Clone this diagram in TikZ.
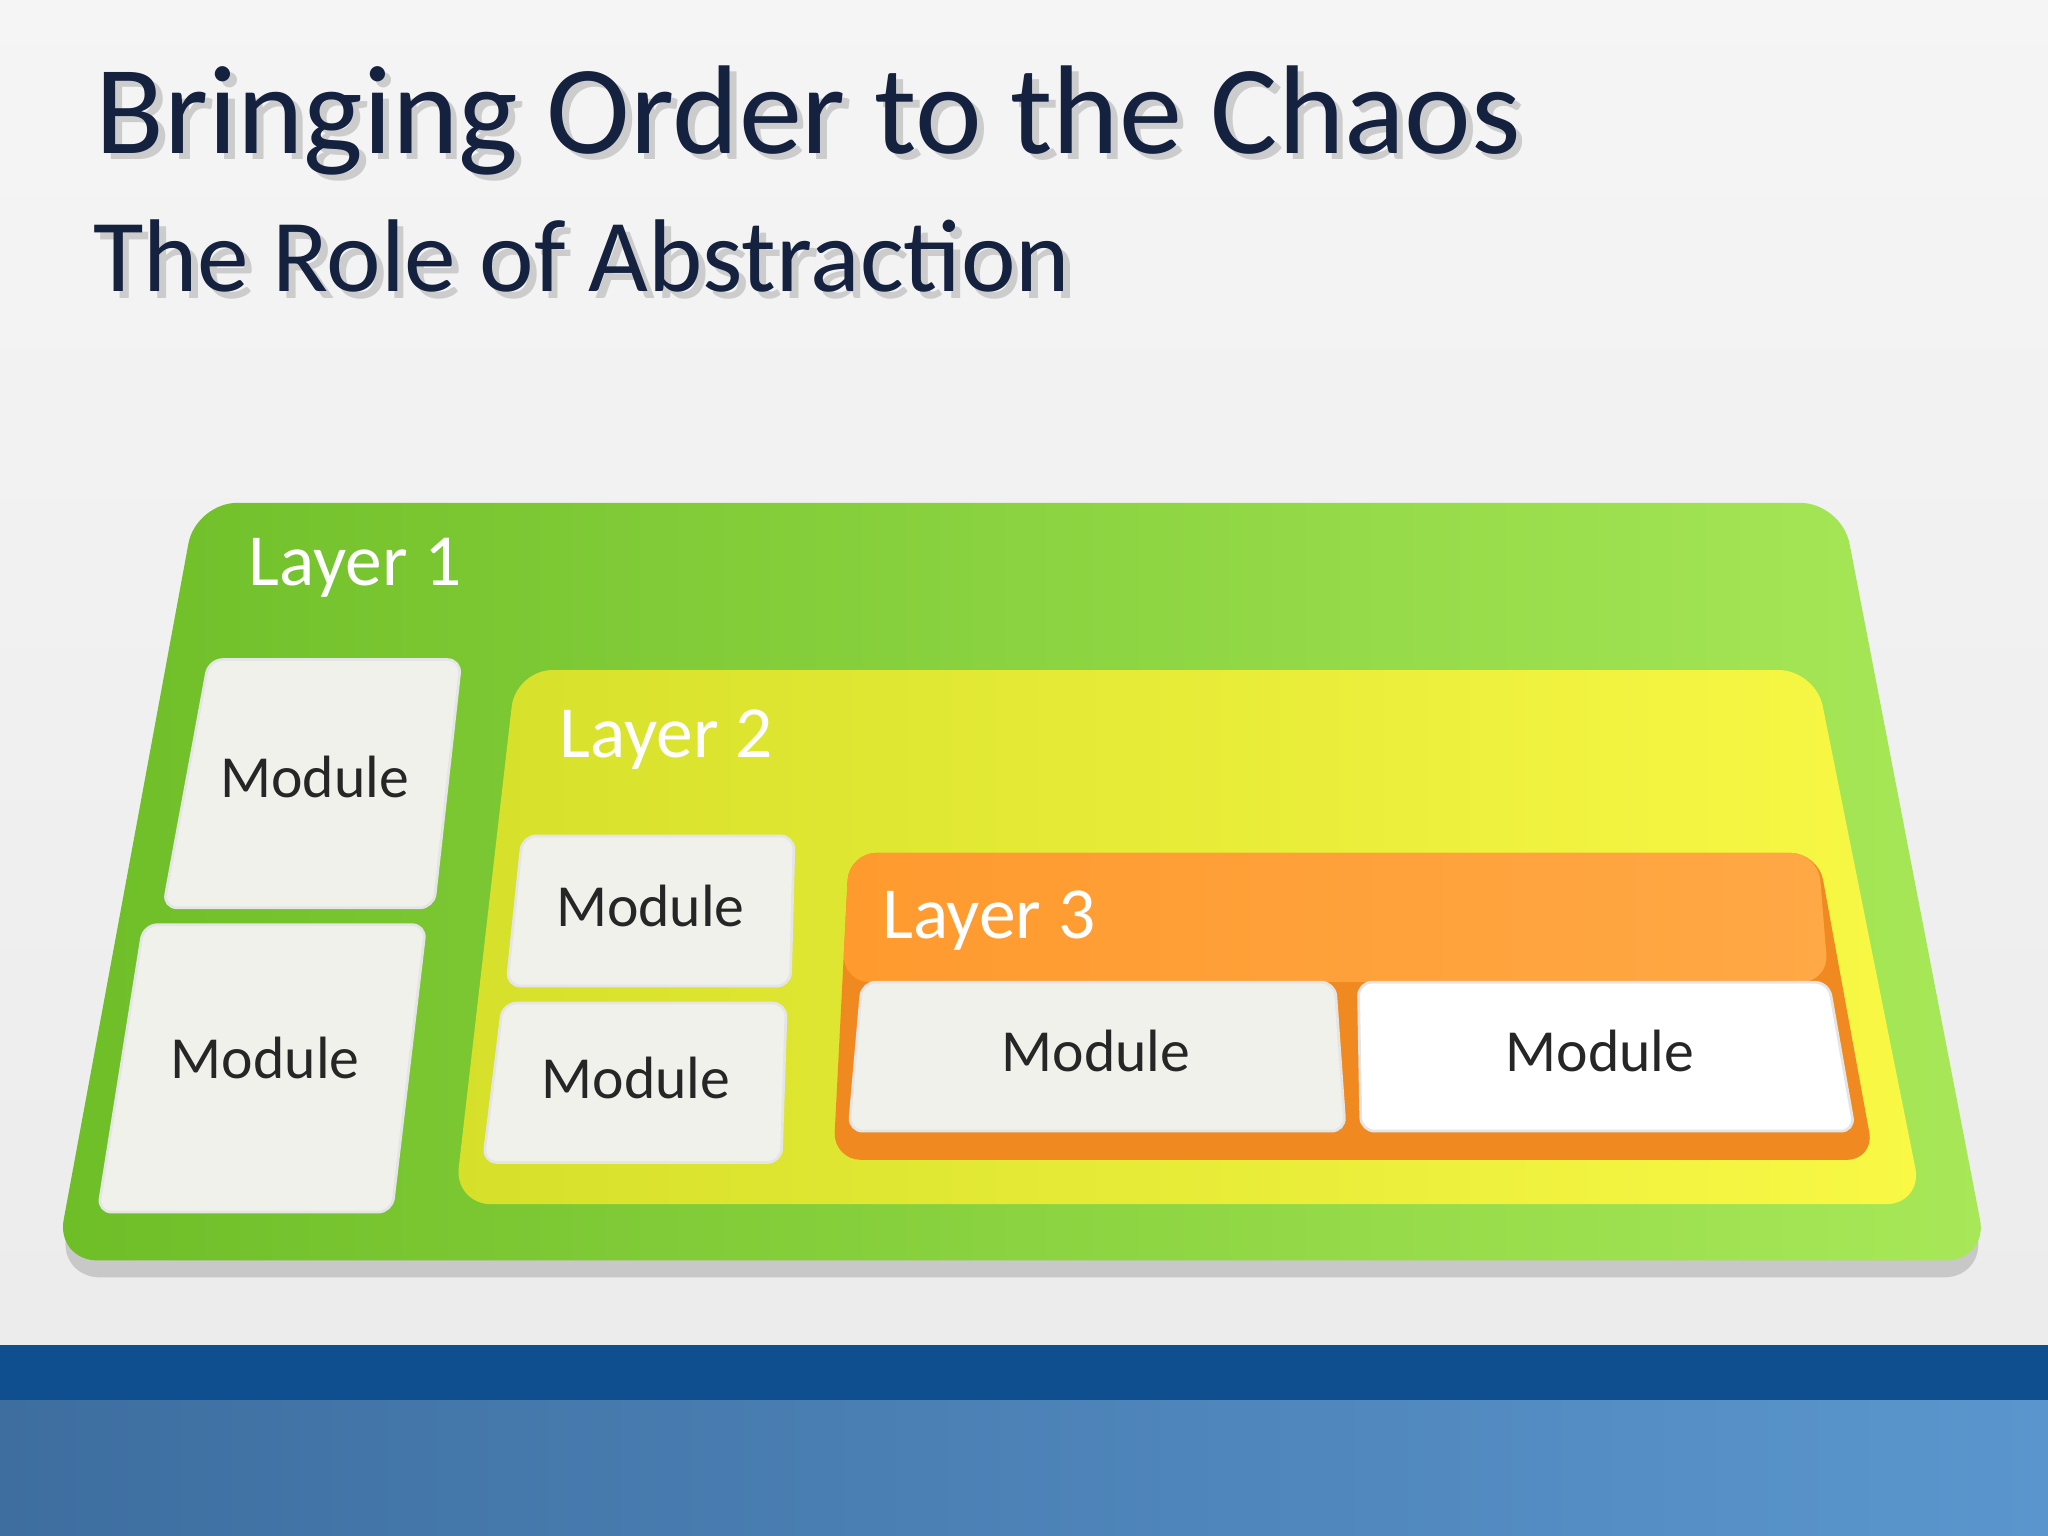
\documentclass[tikz,border=0pt]{standalone}
\usepackage{fontspec}
\setmainfont{Carlito}
\begin{document}
\begin{tikzpicture}[x=0.01cm,y=-0.01cm,
  modbox/.style={fill=modcol,draw=white!80!gray,line width=0.6pt,rounded corners=3pt},
  modtxt/.style={font=\fontsize{13}{15}\selectfont,text=black!85},
  laytxt/.style={font=\fontsize{16}{18}\selectfont,text=white,anchor=west}]
\definecolor{modcol}{HTML}{F1F1EC}
\definecolor{navy}{HTML}{14213F}
\definecolor{bandA}{HTML}{0F4F8F}
\definecolor{bandL}{RGB}{62,110,160}
\definecolor{bandR}{RGB}{90,150,205}
\definecolor{grL}{HTML}{6EBE28}
\definecolor{grR}{HTML}{A8E858}
\definecolor{yeL}{HTML}{D6E02A}
\definecolor{yeR}{HTML}{F8F845}
\definecolor{orD}{HTML}{F08A20}
\definecolor{orL}{HTML}{FF9A2E}
\definecolor{orR}{HTML}{FFA845}
\useasboundingbox (0,0) rectangle (1568,1176);
\shade[top color=white!92!gray,bottom color=white!85!gray] (0,0) rectangle (1568,1030);
\fill[bandA] (0,1030) rectangle (1568,1072);
\shade[left color=bandL,right color=bandR] (0,1072) rectangle (1568,1176);
% titles
\node[anchor=west,font=\fontsize{27.5}{30}\selectfont,text=black!30,opacity=0.6] (ts) at (66,97) {Bringing Order to the Chaos};
\node[anchor=west,font=\fontsize{27.5}{30}\selectfont,text=navy] (t) at (61,92) {Bringing Order to the Chaos};
\node[anchor=west,font=\fontsize{22.5}{25}\selectfont,text=black!30,opacity=0.6] (ss) at (64,201) {The Role of Abstraction};
\node[anchor=west,font=\fontsize{22.5}{25}\selectfont,text=navy] (s) at (59,196) {The Role of Abstraction};
% green
\fill[black!35,opacity=0.5,rounded corners=9pt] (150,395)--(1410,395)--(1520,978)--(45,978)--cycle;
\shade[left color=grL,right color=grR,rounded corners=9pt] (150,385)--(1410,385)--(1522,965)--(43,965)--cycle;
\node[laytxt] (l1) at (178,435) {Layer 1};
% yellow
\shade[left color=yeL,right color=yeR,rounded corners=8pt] (395,513)--(1390,513)--(1472,922)--(348,922)--cycle;
\node[laytxt] (l2) at (416,566) {Layer 2};
% orange
\fill[orD,rounded corners=6pt] (650,653)--(1392,653)--(1435,888)--(638,888)--cycle;
\shade[left color=orL,right color=orR,rounded corners=6pt] (650,653)--(1392,653)--(1400,752)--(645,752)--cycle;
\node[laytxt] (l3) at (663,705) {Layer 3};
% modules
\fill[modbox] (160,505)--(353,505)--(332,695)--(125,695)--cycle;
\node[modtxt] (m1) at (241,595) {Module};
\fill[modbox] (110,708)--(326,708)--(300,928)--(75,928)--cycle;
\node[modtxt] (m2) at (203,810) {Module};
\fill[modbox] (400,640)--(608,640)--(605,755)--(388,755)--cycle;
\node[modtxt] (m3) at (498,694) {Module};
\fill[modbox] (385,768)--(602,768)--(598,890)--(370,890)--cycle;
\node[modtxt] (m4) at (487,825) {Module};
\fill[modbox] (660,752)--(1022,752)--(1030,866)--(650,866)--cycle;
\node[modtxt] (m5) at (839,805) {Module};
\fill[modbox,fill=white] (1040,752)--(1400,752)--(1420,866)--(1042,866)--cycle;
\node[modtxt] (m6) at (1225,805) {Module};
\end{tikzpicture}
\end{document}
